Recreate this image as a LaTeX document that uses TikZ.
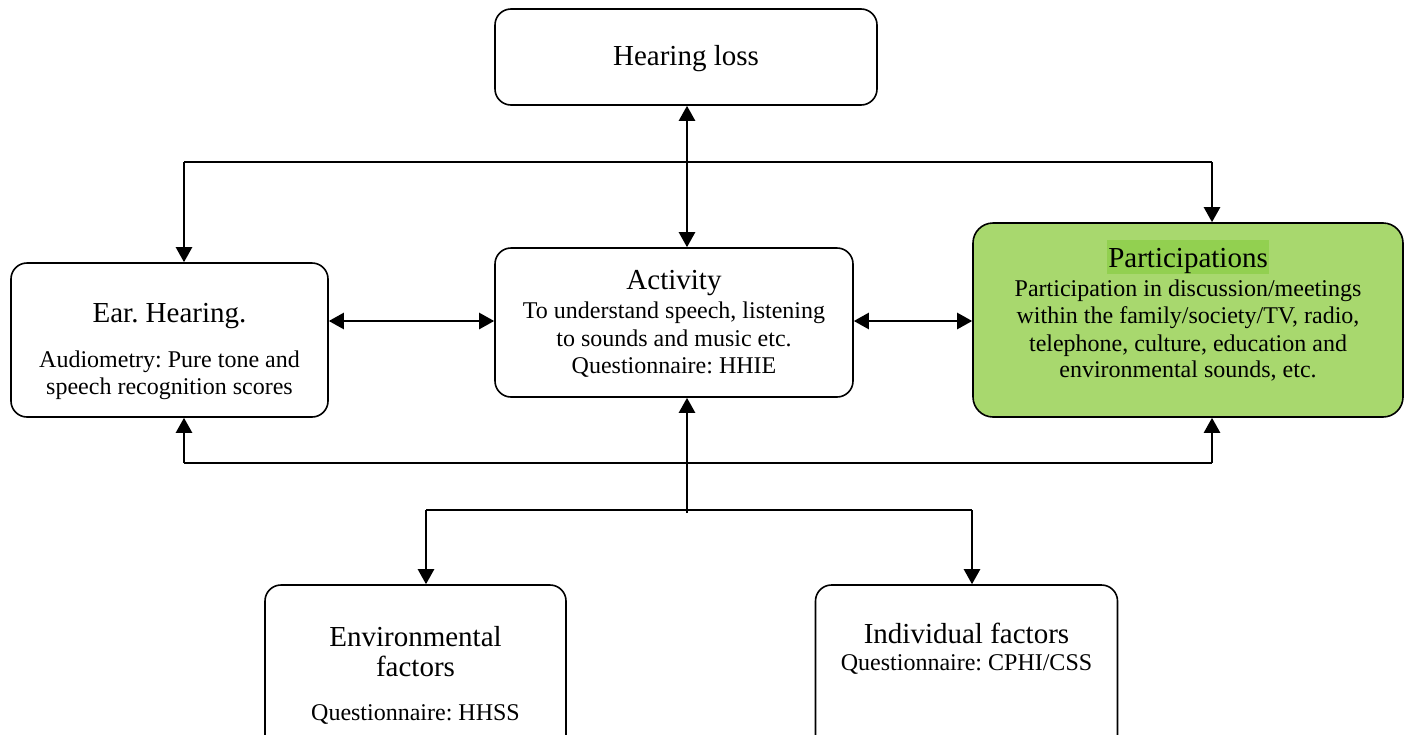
\documentclass[tikz,border=0pt]{standalone}
\usepackage{fontspec}
\setmainfont{Liberation Serif}
\usetikzlibrary{arrows.meta}
\definecolor{pgreen}{RGB}{168,216,110}
\definecolor{hlgreen}{RGB}{146,208,80}
\frenchspacing
\tikzset{
  box/.style={draw=black, line width=1.6pt, rounded corners=16pt, inner sep=0pt},
  ttl/.style={anchor=base, inner sep=0pt, font=\fontsize{29}{33}\selectfont},
  bdy/.style={anchor=base, inner sep=0pt, font=\fontsize{24}{27.6}\selectfont},
  conn/.style={line width=1.6pt},
  tip/.style={},
  arr/.style={line width=2.4pt, -{Triangle[length=15pt,width=16pt]}},
  dbl/.style={line width=2.4pt, {Triangle[length=15pt,width=16pt]}-{Triangle[length=15pt,width=16pt]}}
}
\begin{document}
\begin{tikzpicture}[x=1pt,y=-1pt]
\useasboundingbox (0,0) rectangle (1407,734);
% boxes
\node[box, minimum width=382pt, minimum height=96pt] (hl) at (686,57) {};
\node[box, minimum width=317pt, minimum height=154pt] (ear) at (169.5,340) {};
\node[box, minimum width=358pt, minimum height=149pt] (act) at (674,322.5) {};
\node[box, fill=pgreen, rounded corners=20pt, minimum width=430pt, minimum height=194pt] (par) at (1188,320) {};
\node[box, minimum width=301pt, minimum height=190pt] (env) at (415.5,680) {};
\node[box, minimum width=302pt, minimum height=190pt] (ind) at (966.5,680) {};
% texts
\node[ttl] (hlt) at (686,65) {Hearing loss};
\node[ttl] (eart) at (169.5,322) {Ear. Hearing.};
\node[bdy] (ear1) at (169.5,367) {Audiometry: Pure tone and};
\node[bdy] (ear2) at (169.5,394) {speech recognition scores};
\node[ttl] (actt) at (674,289) {Activity};
\node[bdy] (act1) at (674,318) {To understand speech, listening};
\node[bdy] (act2) at (674,346) {to sounds and music etc.};
\node[bdy] (act3) at (674,373) {Questionnaire: HHIE};
\node[ttl, fill=hlgreen, inner xsep=1pt, text height=27pt, text depth=7pt] (part) at (1188,267) {Participations};
\node[bdy] (par1) at (1188,296) {Participation in discussion/meetings};
\node[bdy] (par2) at (1188,323) {within the family/society/TV, radio,};
\node[bdy] (par3) at (1188,351) {telephone, culture, education and};
\node[bdy] (par4) at (1188,377) {environmental sounds, etc.};
\node[ttl] (envt1) at (415.5,646) {Environmental};
\node[ttl] (envt2) at (415.5,676) {factors};
\node[bdy] (env1) at (415.5,720) {Questionnaire: HHSS};
\node[ttl] (indt) at (966.5,643) {Individual factors};
\node[bdy] (ind1) at (966.5,670) {Questionnaire: CPHI/CSS};
% coordinates
\coordinate (tl) at (184,162);
\coordinate (tr) at (1212,162);
\coordinate (bl) at (184,463);
\coordinate (br) at (1212,463);
\coordinate (cm) at (687,513);
\coordinate (ll) at (426,510);
\coordinate (lr) at (972,510);
\coordinate (ya) at (0,321);
% connectors
\draw[dbl] (hl.south -| 687,0) -- (act.north -| 687,0);
\draw[conn] (tl) -- (tr);
\draw[arr] (tl) -- (tl |- ear.north);
\draw[arr] (tr) -- (tr |- par.north);
\draw[dbl] (ear.east |- ya) -- (act.west |- ya);
\draw[dbl] (act.east |- ya) -- (par.west |- ya);
\draw[conn] (bl) -- (br);
\draw[arr] (bl) -- (bl |- ear.south);
\draw[arr] (br) -- (br |- par.south);
\draw[arr] (cm) -- (cm |- act.south);
\draw[conn] (ll) -- (lr);
\draw[arr] (ll) -- (ll |- env.north);
\draw[arr] (lr) -- (lr |- ind.north);
\end{tikzpicture}
\end{document}
